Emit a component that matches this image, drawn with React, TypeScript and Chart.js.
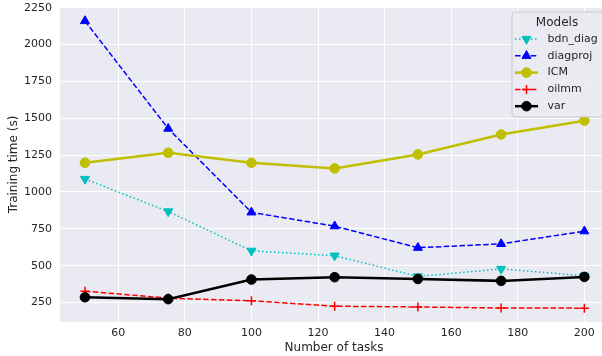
import React, { useEffect, useRef } from 'react';
import { Chart, registerables } from 'chart.js';

Chart.register(...registerables);

// Training time per model against the number of tasks
const tasks = [50, 75, 100, 125, 150, 175, 200];
const bdnDiag = [1088, 868, 601, 568, 427, 478, 432];
const diagproj = [2160, 1430, 862, 768, 622, 648, 734];
const icm = [1198, 1266, 1198, 1160, 1255, 1390, 1484];
const oilmm = [327, 280, 262, 225, 220, 213, 212];
const varTimes = [286, 273, 406, 422, 410, 397, 424];

const xTicks = [60, 80, 100, 120, 140, 160, 180, 200];
const yTicks = [250, 500, 750, 1000, 1250, 1500, 1750, 2000, 2250];

const FONT = "'DejaVu Sans', sans-serif";
const TEXT = '#262626';
const PANEL = '#EAEAF2';

type Marker = 'triangle-down' | 'triangle-up' | 'circle' | 'plus';

interface Series {
  label: string;
  values: number[];
  color: string;
  dash: number[];
  width: number;
  marker: Marker;
  radius: number;
}

const series: Series[] = [
  { label: 'bdn_diag', values: bdnDiag, color: '#00BFBF', dash: [1.5, 2.5], width: 1.5, marker: 'triangle-down', radius: 5.2 },
  { label: 'diagproj', values: diagproj, color: '#0000FF', dash: [5.5, 2.4], width: 1.5, marker: 'triangle-up', radius: 5.2 },
  { label: 'ICM', values: icm, color: '#BFBF00', dash: [], width: 2.5, marker: 'circle', radius: 4.8 },
  { label: 'oilmm', values: oilmm, color: '#FF0000', dash: [5.5, 2.4], width: 1.5, marker: 'plus', radius: 4.5 },
  { label: 'var', values: varTimes, color: '#000000', dash: [], width: 2.5, marker: 'circle', radius: 4.8 },
];

function pointStyleOf(m: Marker): any {
  if (m === 'circle') return 'circle';
  if (m === 'plus') return 'cross';
  return 'triangle';
}

function drawMarker(ctx: CanvasRenderingContext2D, s: Series, x: number, y: number) {
  ctx.save();
  ctx.setLineDash([]);
  ctx.fillStyle = s.color;
  ctx.strokeStyle = s.color;
  const r = s.radius;
  ctx.beginPath();
  if (s.marker === 'circle') {
    ctx.lineWidth = 1;
    ctx.arc(x, y, r, 0, Math.PI * 2);
    ctx.fill();
    ctx.stroke();
  } else if (s.marker === 'plus') {
    ctx.lineWidth = 1.5;
    ctx.moveTo(x - r, y);
    ctx.lineTo(x + r, y);
    ctx.moveTo(x, y - r);
    ctx.lineTo(x, y + r);
    ctx.stroke();
  } else {
    ctx.lineWidth = 1;
    let rad = s.marker === 'triangle-down' ? Math.PI : 0;
    ctx.moveTo(x + Math.sin(rad) * r, y - Math.cos(rad) * r);
    rad += (2 * Math.PI) / 3;
    ctx.lineTo(x + Math.sin(rad) * r, y - Math.cos(rad) * r);
    rad += (2 * Math.PI) / 3;
    ctx.lineTo(x + Math.sin(rad) * r, y - Math.cos(rad) * r);
    ctx.closePath();
    ctx.fill();
    ctx.stroke();
  }
  ctx.restore();
}

// Axes face colour behind the grid
const panelPlugin = {
  id: 'panel',
  beforeDraw(chart: any) {
    const { ctx, chartArea: a } = chart;
    ctx.save();
    ctx.fillStyle = PANEL;
    ctx.fillRect(a.left, a.top, a.right - a.left, a.bottom - a.top);
    ctx.restore();
  },
};

// Axis titles and the boxed "Models" legend
const decorPlugin = {
  id: 'decor',
  afterDraw(chart: any) {
    const { ctx } = chart;
    ctx.save();
    ctx.fillStyle = TEXT;
    ctx.font = `12px ${FONT}`;
    ctx.textAlign = 'center';
    ctx.textBaseline = 'middle';
    ctx.fillText('Number of tasks', 334, 348);
    ctx.save();
    ctx.translate(13.5, 164.5);
    ctx.rotate(-Math.PI / 2);
    ctx.fillText('Training time (s)', 0, 0);
    ctx.restore();

    // legend frame
    const bx = 512, by = 12, bw = 92, bh = 105, br = 3;
    ctx.beginPath();
    ctx.moveTo(bx + br, by);
    ctx.lineTo(bx + bw - br, by);
    ctx.arcTo(bx + bw, by, bx + bw, by + br, br);
    ctx.lineTo(bx + bw, by + bh - br);
    ctx.arcTo(bx + bw, by + bh, bx + bw - br, by + bh, br);
    ctx.lineTo(bx + br, by + bh);
    ctx.arcTo(bx, by + bh, bx, by + bh - br, br);
    ctx.lineTo(bx, by + br);
    ctx.arcTo(bx, by, bx + br, by, br);
    ctx.closePath();
    ctx.fillStyle = 'rgba(234,234,242,0.8)';
    ctx.fill();
    ctx.strokeStyle = '#CCCCCC';
    ctx.lineWidth = 1;
    ctx.stroke();

    ctx.fillStyle = TEXT;
    ctx.font = `12px ${FONT}`;
    ctx.textAlign = 'center';
    ctx.fillText('Models', 557, 22.5);

    ctx.font = `11px ${FONT}`;
    ctx.textAlign = 'left';
    series.forEach((s, i) => {
      const y = 39 + i * 16.8;
      ctx.save();
      ctx.strokeStyle = s.color;
      ctx.lineWidth = s.width;
      ctx.setLineDash(s.dash);
      ctx.beginPath();
      ctx.moveTo(515, y);
      ctx.lineTo(538, y);
      ctx.stroke();
      ctx.restore();
      drawMarker(ctx, s, 526.5, y);
      ctx.fillStyle = TEXT;
      ctx.fillText(s.label, 547.5, y);
    });
    ctx.restore();
  },
};

export default function App() {
  const canvasRef = useRef<HTMLCanvasElement | null>(null);

  useEffect(() => {
    document.body.style.margin = '0';
    const canvas = canvasRef.current;
    if (!canvas) return;

    const datasets = series.map((s, i) => ({
      label: s.label,
      data: tasks.map((t, j) => ({ x: t, y: s.values[j] })),
      borderColor: s.color,
      backgroundColor: s.color,
      borderWidth: s.width,
      borderDash: s.dash,
      borderCapStyle: 'butt' as const,
      pointStyle: pointStyleOf(s.marker),
      pointRotation: s.marker === 'triangle-down' ? 180 : 0,
      pointRadius: s.radius,
      pointBorderWidth: s.marker === 'plus' ? 1.5 : 1,
      pointBackgroundColor: s.color,
      pointBorderColor: s.color,
      fill: false,
      tension: 0,
      order: series.length - i,
    }));

    const tickFont = { family: FONT, size: 11 };

    const chart = new Chart(canvas, {
      type: 'line',
      data: { datasets },
      plugins: [panelPlugin, decorPlugin],
      options: {
        animation: false,
        responsive: false,
        devicePixelRatio: 1,
        layout: { autoPadding: false, padding: { top: 7, right: 0, bottom: 0, left: 0 } },
        plugins: {
          legend: { display: false },
          tooltip: { enabled: false },
        },
        scales: {
          x: {
            type: 'linear',
            min: 42.5,
            max: 205.3,
            afterBuildTicks: (s: any) => {
              s.ticks = xTicks.map((v) => ({ value: v }));
            },
            afterFit: (s: any) => {
              s.height = 34;
              s.paddingLeft = 0;
              s.paddingRight = 0;
            },
            grid: { color: '#FFFFFF', lineWidth: 1, drawTicks: false },
            border: { display: false },
            ticks: {
              padding: 5,
              color: TEXT,
              font: tickFont,
              maxRotation: 0,
              autoSkip: false,
              callback: (v: any) => String(v),
            },
          },
          y: {
            type: 'linear',
            min: 118,
            max: 2255,
            afterBuildTicks: (s: any) => {
              s.ticks = yTicks.map((v) => ({ value: v }));
            },
            afterFit: (s: any) => {
              s.width = 60;
              s.paddingTop = 0;
              s.paddingBottom = 0;
            },
            grid: { color: '#FFFFFF', lineWidth: 1, drawTicks: false },
            border: { display: false },
            ticks: {
              padding: 8,
              color: TEXT,
              font: tickFont,
              autoSkip: false,
              callback: (v: any) => String(v),
            },
          },
        },
      },
    });

    return () => chart.destroy();
  }, []);

  return (
    <div style={{ position: 'absolute', left: 0, top: 0, width: 602, height: 356 }}>
      <canvas ref={canvasRef} width={602} height={356} />
    </div>
  );
}
